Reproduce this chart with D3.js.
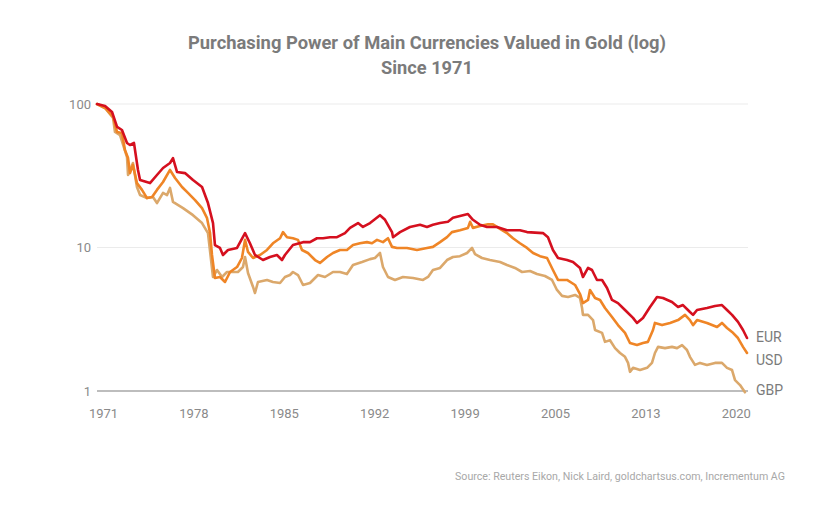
<!DOCTYPE html>
<html>
<head>
<meta charset="utf-8">
<script src="https://cdn.jsdelivr.net/npm/d3@7"></script>
<style>
  html, body { margin: 0; padding: 0; background: #fff; }
  svg { display: block; }
  text { font-family: Roboto, "Noto Sans", sans-serif; }
</style>
</head>
<body>
<svg id="chart" width="840" height="508"></svg>
<script>
// ---------- data ----------
const titleLines = ["Purchasing Power of Main Currencies Valued in Gold (log)", "Since 1971"];
const sourceText = "Source: Reuters Eikon, Nick Laird, goldchartsus.com, Incrementum AG";
const xTickYears = [1971, 1978, 1985, 1992, 1999, 2005, 2013, 2020];
const yTickValues = [1, 10, 100];
const seriesNames = ["EUR", "USD", "GBP"];

// [decimal year, purchasing power index]
const eurData = [
  [1971.00,100],[1971.62,96.8],[1972.16,87.9],[1972.55,69.2],[1972.93,65.9],[1973.32,53.5],[1973.55,51.8],
  [1973.86,53.5],[1974.17,34.7],[1974.33,29.5],[1975.10,28.1],[1975.64,32.0],[1976.11,35.8],[1976.65,38.8],
  [1976.88,42.0],[1977.19,33.6],[1977.81,33.0],[1978.43,29.5],[1979.13,26.4],[1979.59,20.4],[1979.98,14.8],
  [1980.13,10.4],[1980.52,9.93],[1980.75,8.87],[1981.14,9.61],[1981.84,9.93],[1982.46,12.6],[1982.84,10.7],
  [1983.23,8.87],[1983.85,8.18],[1984.39,8.59],[1984.93,8.87],[1985.32,8.18],[1985.55,8.87],[1986.17,10.4],
  [1986.95,10.9],[1987.49,10.9],[1988.03,11.6],[1988.50,11.6],[1989.04,11.8],[1989.58,11.8],[1990.20,12.6],
  [1990.59,13.7],[1991.21,14.8],[1991.59,13.9],[1992.14,14.8],[1992.91,16.8],[1993.30,15.6],[1993.84,12.8],
  [1993.92,11.8],[1994.46,12.8],[1995.23,13.9],[1996.01,14.4],[1996.55,13.9],[1997.01,14.4],[1997.56,14.8],
  [1998.17,15.1],[1998.56,16.1],[1999.10,16.6],[1999.69,17.1],[2000.02,15.6],[2000.49,14.4],[2000.95,13.9],
  [2001.62,13.9],[2002.28,13.2],[2003.14,13.2],[2003.61,12.8],[2004.67,12.6],[2005.00,11.8],[2005.33,9.61],
  [2005.72,8.45],[2006.52,8.18],[2007.05,7.92],[2007.67,7.20],[2007.93,6.23],[2008.38,7.20],[2008.73,6.97],
  [2009.17,5.94],[2009.62,5.94],[2010.06,5.22],[2010.50,4.31],[2011.03,4.10],[2011.65,3.67],[2012.36,3.23],
  [2012.71,2.98],[2013.24,3.23],[2013.82,3.85],[2014.20,4.31],[2014.36,4.52],[2014.82,4.45],[2015.52,4.17],
  [2015.99,3.85],[2016.37,3.97],[2016.91,3.55],[2017.15,3.39],[2017.46,3.67],[2018.23,3.79],[2018.85,3.91],
  [2019.39,3.97],[2019.78,3.67],[2020.17,3.39],[2020.63,3.03],[2021.02,2.66],[2021.33,2.34]
];
const usdData = [
  [1971.00,100],[1971.62,93.8],[1972.24,81.2],[1972.55,63.8],[1972.93,62.8],[1973.16,47.8],[1973.40,42.0],
  [1973.55,33.0],[1973.78,37.6],[1974.09,28.1],[1974.48,25.2],[1974.87,22.1],[1975.26,22.5],[1975.64,25.2],
  [1976.11,28.6],[1976.65,34.7],[1977.04,30.5],[1977.58,26.4],[1978.04,24.0],[1978.59,21.4],[1979.13,18.8],
  [1979.51,16.1],[1979.75,12.6],[1979.90,8.87],[1980.13,6.13],[1980.52,6.23],[1980.91,5.75],[1981.30,6.75],
  [1981.84,7.31],[1982.22,8.45],[1982.46,11.3],[1982.69,9.31],[1983.08,8.45],[1983.62,8.87],[1984.16,9.61],
  [1984.62,10.7],[1985.17,11.6],[1985.40,12.8],[1985.71,11.8],[1986.17,11.6],[1986.56,11.3],[1986.87,9.61],
  [1987.33,9.16],[1987.88,8.18],[1988.26,7.80],[1988.81,8.59],[1989.27,9.16],[1989.81,9.61],[1990.35,9.61],
  [1990.82,10.4],[1991.36,10.7],[1991.90,10.9],[1992.29,10.7],[1992.68,11.3],[1993.14,10.9],[1993.53,11.6],
  [1993.84,10.1],[1994.23,9.93],[1995.00,9.93],[1995.77,9.61],[1996.55,9.93],[1997.01,10.1],[1997.56,10.9],
  [1998.10,11.8],[1998.48,12.8],[1999.10,13.2],[1999.69,13.7],[1999.83,15.1],[2000.02,13.7],[2000.49,14.1],
  [2001.02,14.5],[2001.35,14.5],[2001.82,13.5],[2002.28,12.6],[2002.68,11.6],[2003.14,10.7],[2003.61,9.93],
  [2004.01,9.16],[2004.47,8.70],[2004.94,8.45],[2005.33,6.97],[2005.72,5.94],[2006.16,5.94],[2006.52,5.94],
  [2007.23,5.48],[2007.67,4.74],[2007.93,4.10],[2008.38,4.31],[2008.55,5.06],[2009.00,4.45],[2009.44,4.31],
  [2009.88,3.79],[2010.50,3.28],[2011.03,2.88],[2011.65,2.54],[2012.09,2.16],[2012.71,2.09],[2013.24,2.16],
  [2013.66,2.20],[2014.05,2.66],[2014.20,2.98],[2014.75,2.88],[2015.37,2.98],[2015.99,3.12],[2016.53,3.39],
  [2016.91,3.12],[2017.15,2.88],[2017.46,3.12],[2018.23,2.98],[2019.01,2.79],[2019.39,2.98],[2019.78,2.75],
  [2020.17,2.58],[2020.63,2.34],[2021.02,2.03],[2021.33,1.84]
];
const gbpData = [
  [1971.00,100],[1971.62,93.8],[1972.24,79.9],[1972.39,63.8],[1972.78,60.8],[1973.32,42.7],[1973.40,32.0],
  [1973.78,38.8],[1974.09,26.4],[1974.33,23.2],[1974.87,22.1],[1975.33,22.5],[1975.64,20.4],[1976.11,24.0],
  [1976.42,23.2],[1976.65,26.0],[1976.88,20.8],[1977.66,18.8],[1978.43,16.8],[1979.13,14.8],[1979.59,12.6],
  [1979.98,6.23],[1980.29,6.97],[1980.68,6.23],[1981.06,6.75],[1981.53,6.75],[1981.91,6.75],[1982.30,7.31],
  [1982.46,8.59],[1982.69,6.64],[1983.08,5.31],[1983.23,4.82],[1983.46,5.75],[1984.16,5.94],[1984.62,5.75],
  [1985.17,5.66],[1985.55,6.23],[1985.94,6.43],[1986.17,6.75],[1986.56,6.43],[1986.95,5.48],[1987.49,5.66],
  [1988.11,6.43],[1988.65,6.23],[1989.27,6.75],[1989.81,6.75],[1990.35,6.53],[1990.82,7.55],[1991.52,7.92],
  [1992.14,8.30],[1992.52,8.45],[1992.91,9.16],[1993.14,7.31],[1993.53,6.23],[1994.07,5.94],[1994.69,6.23],
  [1995.47,6.13],[1996.24,5.94],[1996.63,6.23],[1997.01,6.97],[1997.56,7.20],[1998.10,8.18],[1998.56,8.59],
  [1999.10,8.70],[1999.63,9.16],[1999.96,9.93],[2000.16,9.00],[2000.62,8.45],[2001.15,8.18],[2001.82,7.92],
  [2002.28,7.55],[2002.81,7.20],[2003.28,6.75],[2003.81,6.86],[2004.27,6.53],[2004.80,6.33],[2005.27,5.94],
  [2005.63,5.06],[2006.08,4.60],[2006.61,4.52],[2007.23,4.67],[2007.67,4.45],[2007.85,3.79],[2007.93,3.39],
  [2008.38,3.39],[2008.82,3.12],[2009.00,2.66],[2009.62,2.54],[2009.88,2.20],[2010.32,2.26],[2010.77,1.99],
  [2011.21,1.84],[2011.65,1.73],[2011.92,1.57],[2012.09,1.36],[2012.36,1.45],[2012.98,1.40],[2013.59,1.45],
  [2013.97,1.57],[2014.20,1.84],[2014.44,2.03],[2014.98,1.99],[2015.52,2.03],[2015.91,1.99],[2016.30,2.09],
  [2016.68,1.93],[2016.91,1.73],[2017.30,1.52],[2017.69,1.57],[2018.23,1.52],[2018.85,1.57],[2019.39,1.57],
  [2019.78,1.45],[2020.17,1.40],[2020.40,1.19],[2020.79,1.10],[2021.17,0.98]
];
const seriesData = [eurData, usdData, gbpData];
const seriesColors = ["#d5101f", "#ef8526", "#dba86b"];

// ---------- layout ----------
const svg = d3.select("#chart");
const W = 840, H = 508;
const plotLeft = 97, plotRight = 748;
const firstTickX = 103.5, tickStep = 90.4;
const yTop = 104, yBottom = 391;

// Polylinear x scale: tick labels are evenly spaced (mid-year positions)
const x = d3.scaleLinear()
  .domain(xTickYears.map(yv => yv + 0.5))
  .range(xTickYears.map((_, i) => firstTickX + i * tickStep));

const y = d3.scaleLog().domain([1, 100]).range([yBottom, yTop]);

// Title
svg.append("g").selectAll("text")
  .data(titleLines)
  .join("text")
  .attr("x", 427)
  .attr("y", (d, i) => 49 + i * 25)
  .attr("text-anchor", "middle")
  .attr("font-size", 18)
  .attr("font-weight", 700)
  .attr("fill", "#7b7b7b")
  .attr("textLength", (d, i) => i === 0 ? 478 : 92)
  .attr("lengthAdjust", "spacingAndGlyphs")
  .text(d => d);

// Gridlines
svg.append("g").selectAll("line")
  .data(yTickValues)
  .join("line")
  .attr("x1", plotLeft).attr("x2", plotRight)
  .attr("y1", d => y(d)).attr("y2", d => y(d))
  .attr("stroke", d => d === 1 ? "#bdbdbd" : "#ebebeb")
  .attr("stroke-width", d => d === 1 ? 2 : 1);

// Y tick labels
svg.append("g").selectAll("text")
  .data(yTickValues)
  .join("text")
  .attr("x", 91)
  .attr("y", d => y(d))
  .attr("dy", "0.35em")
  .attr("text-anchor", "end")
  .attr("font-size", 13)
  .attr("fill", "#8a8a8a")
  .text(d => d3.format("d")(d));

// X tick labels
svg.append("g").selectAll("text")
  .data(xTickYears)
  .join("text")
  .attr("x", d => x(d + 0.5))
  .attr("y", 418)
  .attr("text-anchor", "middle")
  .attr("font-size", 13)
  .attr("fill", "#8a8a8a")
  .text(d => d);

// Lines (draw GBP first, EUR last on top)
const line = d3.line()
  .x(d => x(d[0]))
  .y(d => y(d[1]));

const order = [2, 1, 0];
svg.append("g").selectAll("path")
  .data(order)
  .join("path")
  .attr("d", i => line(seriesData[i]))
  .attr("fill", "none")
  .attr("stroke", i => seriesColors[i])
  .attr("stroke-width", 2.6)
  .attr("stroke-linejoin", "round")
  .attr("stroke-linecap", "round");

// Series labels
const labelY = [337, 360, 390];
svg.append("g").selectAll("text")
  .data(seriesNames)
  .join("text")
  .attr("x", 756)
  .attr("y", (d, i) => labelY[i])
  .attr("dy", "0.35em")
  .attr("font-size", 14)
  .attr("fill", "#7b7b7b")
  .text(d => d);

// Source
svg.append("text")
  .attr("x", 785)
  .attr("y", 480)
  .attr("text-anchor", "end")
  .attr("font-size", 11)
  .attr("fill", "#a8a8a8")
  .attr("textLength", 330)
  .attr("lengthAdjust", "spacingAndGlyphs")
  .text(sourceText);
</script>
</body>
</html>
